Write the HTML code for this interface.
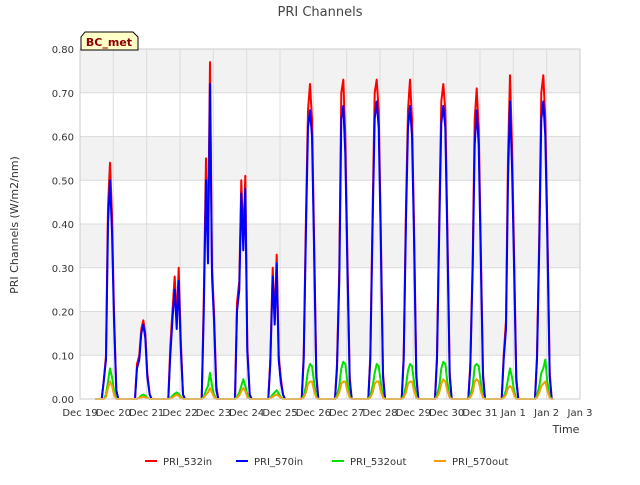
<!DOCTYPE html>
<html><head><meta charset="utf-8"><style>
body{margin:0;background:#fff;font-family:"Liberation Sans","DejaVu Sans",sans-serif}
svg text{font-family:"DejaVu Sans","Liberation Sans",sans-serif}
</style></head><body>
<svg id="chart" width="640" height="480" viewBox="0 0 640 480" xmlns="http://www.w3.org/2000/svg">
<g id="bands"></g><g id="grid"></g><g id="series"></g><g id="axes"></g>
<text x="320" y="16" text-anchor="middle" font-size="13" fill="#444">PRI Channels</text>
<text transform="translate(18,225) rotate(-90)" text-anchor="middle" font-size="11" fill="#333">PRI Channels (W/m2/nm)</text>
<text x="566" y="433" text-anchor="middle" font-size="11" fill="#333">Time</text>
<g>
<path d="M81,50 L81,37 L85,32 L133,32 L138,37 L138,50 Z" fill="#ffffc8" stroke="#000" stroke-width="1"/>
<text x="109" y="46" text-anchor="middle" font-size="11" font-weight="bold" fill="#8b0000">BC_met</text>
</g>
<g id="legend"></g>
</svg>
<script>
const xTickLabels=["Dec 19","Dec 20","Dec 21","Dec 22","Dec 23","Dec 24","Dec 25","Dec 26","Dec 27","Dec 28","Dec 29","Dec 30","Dec 31","Jan 1","Jan 2","Jan 3"];
const yTicks=[0,0.1,0.2,0.3,0.4,0.5,0.6,0.7,0.8];
const offsets=[-0.25,-0.19,-0.12,-0.06,0,0.06,0.12,0.19,0.25];
const peakShift=0.9;
const s532in=[
[0,0.04,0.1,0.44,0.54,0.42,0.2,0.02,0],
[0,0.08,0.1,0.16,0.18,0.15,0.06,0.01,0],
[0,0.12,0.21,0.28,0.18,0.30,0.14,0.01,0],
[0,0.22,0.55,0.35,0.77,0.3,0.2,0.03,0],
[0,0.22,0.27,0.50,0.36,0.51,0.12,0.01,0],
[0,0.09,0.3,0.18,0.33,0.1,0.05,0.01,0],
[0,0.1,0.42,0.66,0.72,0.64,0.38,0.06,0],
[0,0.08,0.30,0.70,0.73,0.60,0.34,0.05,0],
[0,0.1,0.44,0.70,0.73,0.66,0.40,0.06,0],
[0,0.1,0.44,0.66,0.73,0.64,0.40,0.06,0],
[0,0.1,0.42,0.68,0.72,0.66,0.40,0.06,0],
[0,0.08,0.32,0.64,0.71,0.62,0.36,0.06,0],
[0,0.1,0.18,0.55,0.74,0.58,0.34,0.05,0],
[0,0.1,0.38,0.70,0.74,0.64,0.40,0.06,0]];
const s570in=[
[0,0.04,0.09,0.40,0.50,0.38,0.18,0.02,0],
[0,0.07,0.09,0.15,0.17,0.14,0.05,0.01,0],
[0,0.1,0.19,0.25,0.16,0.27,0.12,0.01,0],
[0,0.19,0.5,0.31,0.72,0.28,0.18,0.02,0],
[0,0.2,0.25,0.47,0.34,0.48,0.11,0.01,0],
[0,0.08,0.28,0.17,0.31,0.09,0.04,0.01,0],
[0,0.09,0.39,0.62,0.66,0.60,0.35,0.05,0],
[0,0.07,0.27,0.64,0.67,0.56,0.31,0.04,0],
[0,0.09,0.41,0.64,0.68,0.62,0.37,0.05,0],
[0,0.09,0.41,0.62,0.67,0.60,0.37,0.05,0],
[0,0.09,0.39,0.63,0.67,0.62,0.37,0.05,0],
[0,0.07,0.30,0.58,0.66,0.58,0.33,0.05,0],
[0,0.09,0.16,0.50,0.68,0.53,0.31,0.04,0],
[0,0.09,0.35,0.64,0.68,0.60,0.37,0.05,0]];
const s532out=[
[0,0,0.01,0.04,0.07,0.05,0.02,0,0],
[0,0,0.003,0.008,0.01,0.008,0.003,0,0],
[0,0.002,0.008,0.012,0.015,0.012,0.005,0,0],
[0,0.005,0.02,0.03,0.06,0.03,0.01,0,0],
[0,0.005,0.015,0.03,0.045,0.03,0.01,0,0],
[0,0.003,0.01,0.015,0.02,0.012,0.005,0,0],
[0,0.008,0.03,0.065,0.08,0.075,0.04,0.005,0],
[0,0.008,0.03,0.07,0.085,0.08,0.04,0.005,0],
[0,0.008,0.03,0.06,0.08,0.075,0.04,0.005,0],
[0,0.008,0.03,0.065,0.08,0.075,0.04,0.005,0],
[0,0.008,0.03,0.07,0.085,0.08,0.04,0.005,0],
[0,0.008,0.03,0.075,0.08,0.075,0.04,0.005,0],
[0,0.005,0.02,0.045,0.07,0.05,0.02,0,0],
[0,0.008,0.03,0.06,0.07,0.09,0.04,0.005,0]];
const s570out=[
[0,0,0.005,0.025,0.04,0.03,0.01,0,0],
[0,0,0.002,0.004,0.005,0.004,0.002,0,0],
[0,0.001,0.004,0.007,0.01,0.007,0.003,0,0],
[0,0.003,0.01,0.015,0.025,0.015,0.005,0,0],
[0,0.003,0.008,0.018,0.025,0.018,0.005,0,0],
[0,0.002,0.005,0.008,0.01,0.007,0.003,0,0],
[0,0.004,0.015,0.035,0.04,0.04,0.02,0.003,0],
[0,0.004,0.015,0.035,0.04,0.04,0.02,0.003,0],
[0,0.004,0.015,0.035,0.04,0.04,0.02,0.003,0],
[0,0.004,0.015,0.035,0.04,0.04,0.02,0.003,0],
[0,0.004,0.015,0.035,0.045,0.04,0.02,0.003,0],
[0,0.004,0.015,0.04,0.045,0.04,0.02,0.003,0],
[0,0.003,0.01,0.025,0.03,0.025,0.01,0,0],
[0,0.004,0.015,0.03,0.035,0.04,0.02,0.003,0]];
const seriesNames=["PRI_532in","PRI_570in","PRI_532out","PRI_570out"];
const seriesColors=["#ff0000","#0000ff","#00e000","#f0a000"];
const seriesData=[s532in,s570in,s532out,s570out];

const L=80,R=580,T=49,B=399,ymax=0.8,nDays=15;
const NS="http://www.w3.org/2000/svg";
const xs=d=>L+(R-L)*d/nDays;
const ys=v=>B-(B-T)*v/ymax;
function mk(tag,attrs,parent){const e=document.createElementNS(NS,tag);for(const k in attrs)e.setAttribute(k,attrs[k]);parent.appendChild(e);return e;}
const bands=document.getElementById('bands'),grid=document.getElementById('grid'),axes=document.getElementById('axes'),ser=document.getElementById('series'),leg=document.getElementById('legend');
mk('rect',{x:L,y:T,width:R-L,height:B-T,fill:'#fff'},bands);
for(let i=0;i<yTicks.length-1;i++){
  if(i%2===1){const r=mk('rect',{x:L,y:ys(yTicks[i+1]),width:R-L,height:ys(yTicks[i])-ys(yTicks[i+1]),fill:'#f2f2f2'},bands);
  
  }
}
yTicks.forEach(v=>{
  const l=mk('line',{x1:L,x2:R,y1:ys(v),y2:ys(v),stroke:'#dcdcdc','stroke-width':1},grid);
  
  
  const t=mk('text',{x:L-6,y:ys(v)+4,'text-anchor':'end','font-size':10,fill:'#333'},axes);
  t.textContent=v.toFixed(2);
  
  
});
xTickLabels.forEach((s,i)=>{
  const l=mk('line',{x1:xs(i),x2:xs(i),y1:T,y2:B,stroke:'#dcdcdc','stroke-width':1},grid);
  
  
  const t=mk('text',{x:xs(i),y:B+17,'text-anchor':'middle','font-size':10,fill:'#333'},axes);
  t.textContent=s;
  
  
});
mk('rect',{x:L,y:T,width:R-L,height:B-T,fill:'none',stroke:'#ccc'},axes);
seriesData.forEach((data,si)=>{
  const pts=[[xs(0.45),ys(0)]];
  data.forEach((day,d)=>{day.forEach((v,k)=>{pts.push([xs(d+peakShift+offsets[k]),ys(v)]);});});
  pts.push([xs(14.2),ys(0)]);
  const p=mk('polyline',{points:pts.map(p=>p[0].toFixed(1)+','+p[1].toFixed(1)).join(' '),fill:'none',stroke:seriesColors[si],'stroke-width':2,'stroke-linejoin':'round'},ser);
  
  
});
const legX=[145,236,332,434];
seriesNames.forEach((n,i)=>{
  const g=mk('g',{},leg);
  
  
  mk('line',{x1:legX[i],x2:legX[i]+12,y1:461,y2:461,stroke:seriesColors[i],'stroke-width':2},g);
  const t=mk('text',{x:legX[i]+18,y:465,'font-size':10,fill:'#333'},g);t.textContent=n;
});
</script>
</body></html>
